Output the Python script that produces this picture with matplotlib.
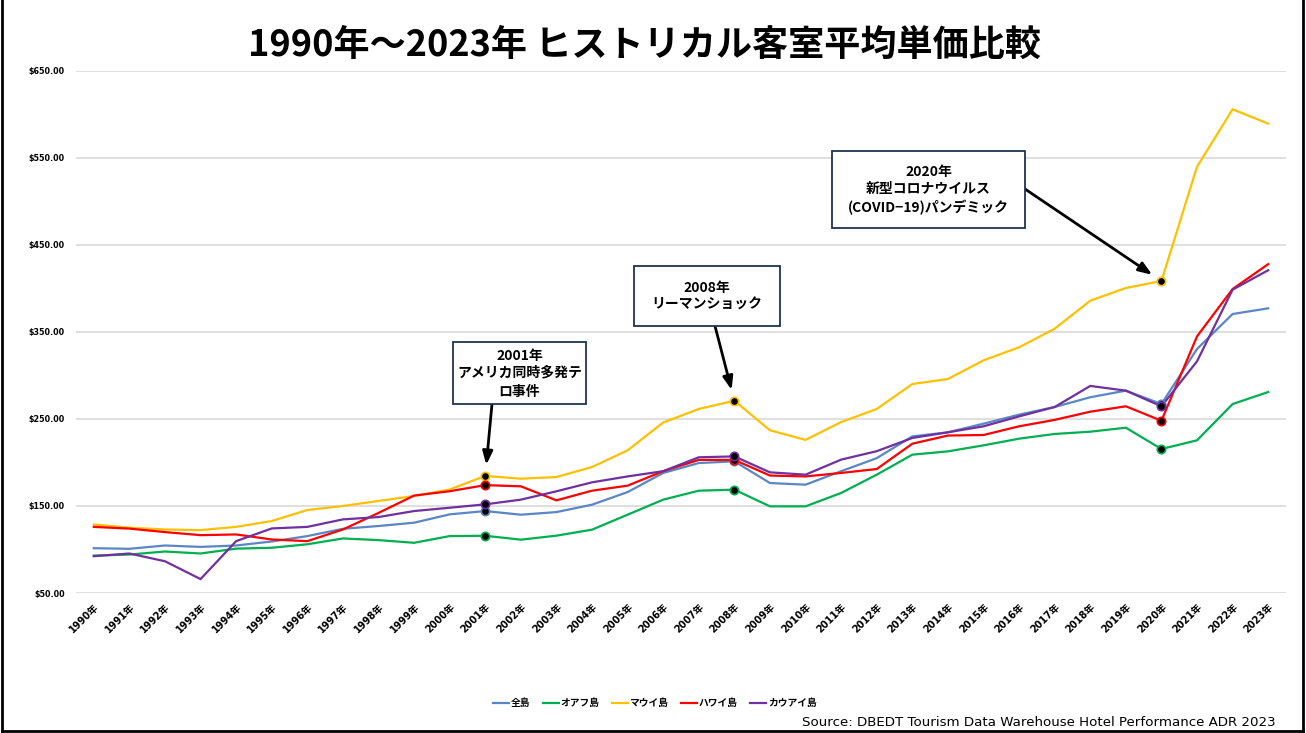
import matplotlib
matplotlib.use("Agg")
import matplotlib.pyplot as plt
from matplotlib.patches import Rectangle
from matplotlib.lines import Line2D

years = list(range(1990, 2024))
year_labels = [f"{y}年" for y in years]

all_islands = [101.5, 100.8, 104.6, 103, 104.6, 109.2, 115.4, 123.8, 127, 130.8, 140.4, 144.2,
               140, 143, 151.5, 166, 188, 199.4, 201.3, 176.4, 174.5, 190, 205, 230, 234.7,
               244.6, 255, 263.8, 275, 282.6, 267.2, 330.5, 370.7, 377.2]
oahu = [93, 94.2, 97.7, 95.4, 101, 102, 106, 112.7, 110.8, 107.7, 115.4, 115.8, 111.3, 115.9,
        122.8, 140, 157.3, 167.6, 168.8, 149.6, 149.6, 165, 186, 209, 212.8, 219.7, 227.4,
        232.8, 235.4, 240, 215.5, 225.5, 267.2, 281]
maui = [128.8, 125, 123, 122.3, 126, 132.7, 145.4, 150, 155.8, 161.5, 169, 184.6, 181.4, 183.3,
        194.8, 214, 246, 261.5, 271, 237, 226, 246.5, 261.5, 290.2, 296, 317.4, 332.4, 353.8,
        386, 400.6, 408.6, 540, 606, 589.5]
hawaii = [126, 124, 120, 116.5, 117.3, 111.5, 109.6, 123, 142, 162, 167, 174, 172.6, 156.5,
          167.6, 173.4, 190, 203, 203, 185, 184, 188, 192.5, 221.6, 231, 231.6, 241.6, 249,
          258.4, 264.6, 248, 345, 399.4, 428]
kauai = [92.3, 95.4, 86.5, 66, 109.6, 124.2, 126, 134.6, 137.3, 144.2, 148, 151.9, 157.3,
         166.9, 177.2, 184, 190, 206, 207, 188.7, 186, 203.3, 213, 228.2, 234.7, 241.6, 253,
         263.8, 288, 282.6, 264.6, 316.3, 398.7, 421]

series_names = ["全島", "オアフ島", "マウイ島", "ハワイ島", "カウアイ島"]
series_values = [all_islands, oahu, maui, hawaii, kauai]
series_colors = ["#5b86c5", "#00b050", "#ffc000", "#ff0000", "#7030a0"]

event_years = [2001, 2008, 2020]
event_texts = ["2001年\nアメリカ同時多発テ\nロ事件",
               "2008年\nリーマンショック",
               "2020年\n新型コロナウイルス\n(COVID−19)パンデミック"]

y_ticks = [50, 150, 250, 350, 450, 550, 650]

W, H = 1306, 733
fig = plt.figure(figsize=(W / 100, H / 100), dpi=100)
fig.patch.set_facecolor("white")

def fx(px):
    return px / W

def fy(py):
    return 1 - py / H

ax = fig.add_axes([fx(76), fy(593), fx(1286) - fx(76), fy(71) - fy(593)])
cjk = ["Noto Sans CJK JP", "DejaVu Sans"]
latin_first = ["DejaVu Sans", "Noto Sans CJK JP"]

xs = list(range(len(years)))
for name, vals, col in zip(series_names, series_values, series_colors):
    ax.plot(xs, vals, color=col, lw=1.6, label=name, zorder=3, solid_joinstyle="miter")
    for ey in event_years:
        i = years.index(ey)
        ax.plot([i], [vals[i]], marker="o", ms=6, mfc="black", mec=col, mew=1.2,
                zorder=4, linestyle="none")

ax.set_xlim(-0.5, len(years) - 0.5)
ax.set_ylim(50, 650)
ax.set_yticks(y_ticks)
ax.set_yticklabels([f"${v:.2f}" for v in y_ticks], fontsize=5.8, fontweight="bold",
                   family="DejaVu Sans")
ax.set_xticks(xs)
ax.set_xticklabels(year_labels, rotation=45, ha="right", rotation_mode="anchor",
                   fontsize=7, fontweight="bold", family=latin_first)
ax.tick_params(axis="both", length=0)
ax.tick_params(axis="y", pad=8)
ax.tick_params(axis="x", pad=6)
ax.grid(axis="y", color="#d9d9d9", lw=1.2, zorder=0)
for s in ax.spines.values():
    s.set_visible(False)
ax.set_facecolor("none")

# Title
fig.text(fx(645), fy(45), "1990年～2023年 ヒストリカル客室平均単価比較", ha="center",
         va="center", fontsize=26, fontweight="bold", family=cjk)

# Annotation boxes
boxes = [(453, 342, 586, 404), (634, 266, 780, 326), (832, 151, 1025, 228)]
line_ys = [[356, 372, 392], [288, 305], [172, 189, 208]]
arrow_starts = [(492, 404), (715, 326), (1025, 189)]
for (x0, y0, x1, y1), txt, lys, (ax0, ay0), ey in zip(boxes, event_texts, line_ys,
                                                       arrow_starts, event_years):
    fig.patches.append(Rectangle((fx(x0), fy(y1)), fx(x1) - fx(x0), fy(y0) - fy(y1),
                                 transform=fig.transFigure, facecolor="white",
                                 edgecolor="#1f3350", lw=1.3, zorder=5))
    for line, ly in zip(txt.split("\n"), lys):
        fig.text(fx((x0 + x1) / 2), fy(ly), line, ha="center", va="center",
                 fontsize=10, fontweight="bold", family=cjk, zorder=6)
    i = years.index(ey)
    ax.annotate("", xy=(i, maui[i]), xycoords="data",
                xytext=(ax0, H - ay0), textcoords="figure pixels",
                arrowprops=dict(arrowstyle="-|>,head_length=0.8,head_width=0.3",
                                color="black", lw=2, shrinkA=0, shrinkB=8),
                zorder=6)

# Legend
handles = [Line2D([0], [0], color=c, lw=1.6) for c in series_colors]
leg = fig.legend(handles, series_names, loc="center", bbox_to_anchor=(fx(655), fy(703)),
                 ncol=5, frameon=False, handlelength=1.6, handletextpad=0.2,
                 columnspacing=1.3, prop={"family": cjk, "weight": "bold", "size": 7})

# Source
fig.text(fx(1276), fy(722), "Source: DBEDT Tourism Data Warehouse Hotel Performance ADR 2023",
         ha="right", va="center", fontsize=9.6, family="DejaVu Sans")

# Frame
for (xa, ya, xb, yb) in [(2, -5, 2, 731), (1303, -5, 1303, 731), (2, 731, 1303, 731)]:
    fig.lines.append(Line2D([fx(xa), fx(xb)], [fy(ya), fy(yb)], transform=fig.transFigure,
                            color="black", lw=2))

fig.savefig("out.png", dpi=100)
